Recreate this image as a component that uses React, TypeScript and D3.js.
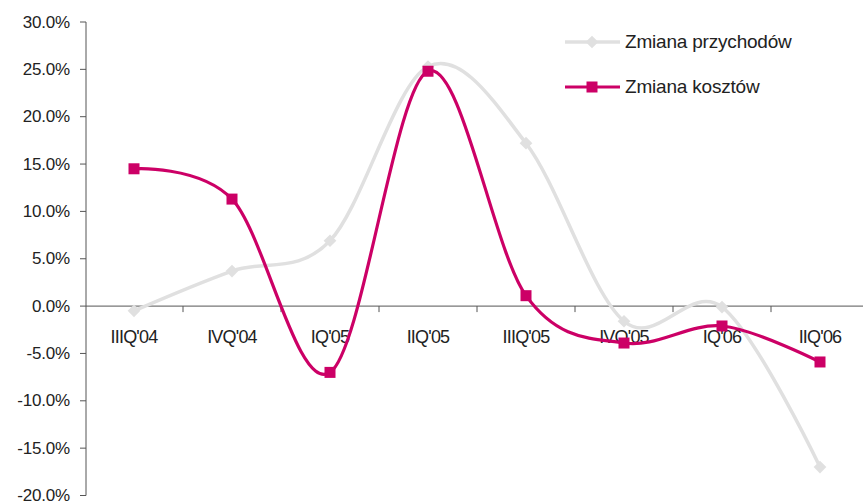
import React from "react";
import * as d3 from "d3";

const categories = ["IIIQ'04", "IVQ'04", "IQ'05", "IIQ'05", "IIIQ'05", "IVQ'05", "IQ'06", "IIQ'06"];
const revenueChange = [-0.5, 3.7, 6.9, 25.3, 17.2, -1.6, -0.1, -17.0];
const costChange = [14.5, 11.3, -7.0, 24.8, 1.1, -3.9, -2.1, -5.9];
const yTicks = [30, 25, 20, 15, 10, 5, 0, -5, -10, -15, -20];

const W = 863;
const H = 502;
const FONT = "'Liberation Sans', Arial, Helvetica, sans-serif";
const GREY = "#e0e0e0";
const MAGENTA = "#cc0066";
const TEXT = "#222";

export default function App() {
  const x = d3.scaleBand<string>().domain(categories).range([85, 869]);
  const cx = (c: string) => (x(c) ?? 0) + x.bandwidth() / 2;
  const y = d3.scaleLinear().domain([-20, 30]).range([495.5, 22]);

  const line = d3
    .line<number>()
    .x((_, i) => cx(categories[i]))
    .y((d) => y(d))
    .curve(d3.curveCatmullRom.alpha(0));

  const boundaries = categories.map((c) => x(c) ?? 0);

  return (
    <svg
      width={W}
      height={H}
      style={{ position: "absolute", left: 0, top: 0, background: "#fff" }}
      fontFamily={FONT}
    >
      {/* y axis */}
      <line x1={86} x2={86} y1={y(30)} y2={y(-20)} stroke="#555" strokeWidth={1} />
      {yTicks.map((t) => (
        <g key={t}>
          <line x1={80} x2={86} y1={y(t)} y2={y(t)} stroke="#555" strokeWidth={1} />
          <text
            x={70}
            y={y(t)}
            dy="0.33em"
            textAnchor="end"
            fontSize={17}
            fill={TEXT}
            letterSpacing={-0.2}
          >
            {t.toFixed(1) + "%"}
          </text>
        </g>
      ))}

      {/* x axis at zero */}
      <line x1={86} x2={W} y1={y(0)} y2={y(0)} stroke="#555" strokeWidth={1} />
      {boundaries.slice(1).map((b, i) => (
        <line key={i} x1={b} x2={b} y1={y(0)} y2={y(0) + 6} stroke="#555" strokeWidth={1} />
      ))}
      {categories.map((c) => (
        <text
          key={c}
          x={cx(c)}
          y={343}
          textAnchor="middle"
          fontSize={18}
          fill={TEXT}
          letterSpacing={-0.8}
        >
          {c}
        </text>
      ))}

      {/* revenue series */}
      <path d={line(revenueChange) ?? ""} fill="none" stroke={GREY} strokeWidth={3.5} />
      {revenueChange.map((v, i) => (
        <rect
          key={i}
          x={-4.5}
          y={-4.5}
          width={9}
          height={9}
          fill={GREY}
          transform={`translate(${cx(categories[i])},${y(v)}) rotate(45)`}
        />
      ))}

      {/* cost series */}
      <path d={line(costChange) ?? ""} fill="none" stroke={MAGENTA} strokeWidth={3.2} />
      {costChange.map((v, i) => (
        <rect
          key={i}
          x={cx(categories[i]) - 5.5}
          y={y(v) - 5.5}
          width={11}
          height={11}
          fill={MAGENTA}
        />
      ))}

      {/* legend */}
      <g>
        <line x1={565} x2={620} y1={42} y2={42} stroke={GREY} strokeWidth={3.5} />
        <rect x={-4.5} y={-4.5} width={9} height={9} fill={GREY} transform="translate(592,42) rotate(45)" />
        <text x={625} y={48} fontSize={19} fill={TEXT} letterSpacing={-0.2}>
          Zmiana przychodów
        </text>
        <line x1={565} x2={620} y1={87} y2={87} stroke={MAGENTA} strokeWidth={3.2} />
        <rect x={586.5} y={81.5} width={11} height={11} fill={MAGENTA} />
        <text x={625} y={93} fontSize={19} fill={TEXT} letterSpacing={-0.2}>
          Zmiana kosztów
        </text>
      </g>
    </svg>
  );
}
